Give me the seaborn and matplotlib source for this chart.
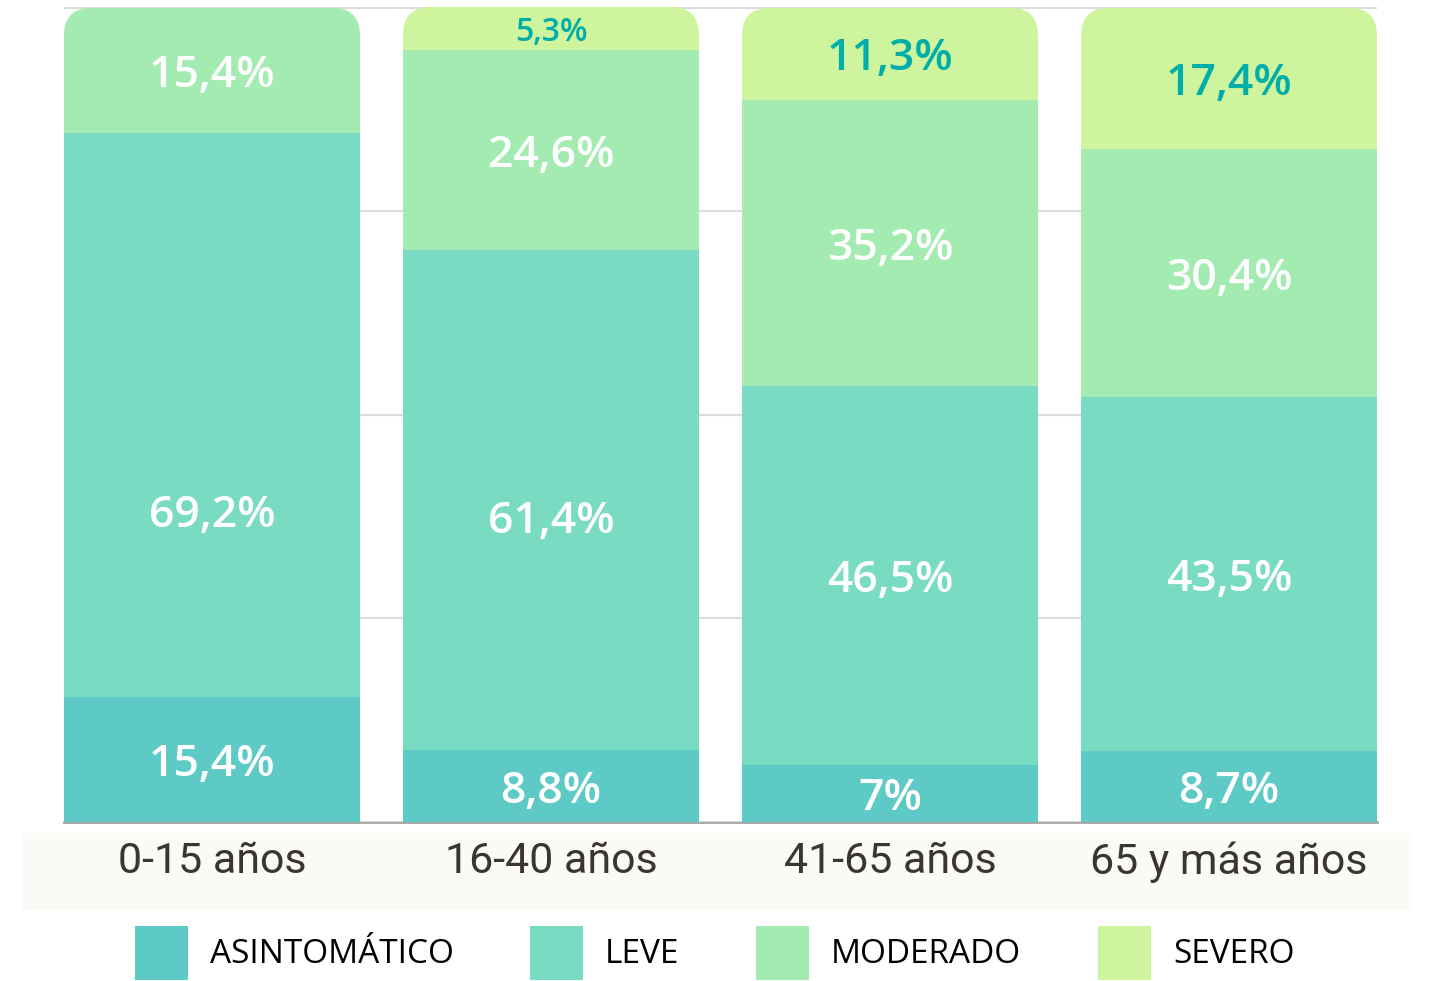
import numpy as np
import matplotlib.pyplot as plt
import seaborn as sns
from matplotlib.patches import FancyBboxPatch, Patch, Rectangle

# Datos
edades = ['0-15 años', '16-40 años', '41-65 años', '65 y más años']
asintomatico = [15.4, 8.8, 7.0, 8.7]
leve = [69.2, 61.4, 46.5, 43.5]
moderado = [15.4, 24.6, 35.2, 30.4]
severo = [0.0, 5.3, 11.3, 17.4]
etiquetas = ['ASINTOMÁTICO', 'LEVE', 'MODERADO', 'SEVERO']
colores = ['#5ecac6', '#79dbc2', '#a3ebb1', '#cef49d']

sns.set_theme(style='white')
plt.rcParams['font.family'] = ['Open Sans', 'DejaVu Sans']

W, H = 1429, 981
fig = plt.figure(figsize=(W / 100, H / 100), dpi=100)
ax = fig.add_axes([64 / W, 159 / H, 1313 / W, 815 / H])

series = [asintomatico, leve, moderado, severo]
acum = np.cumsum(series, axis=0)
ancho = 0.873

# barras apiladas: de la acumulada mayor a la menor
for i in range(3, -1, -1):
    sns.barplot(x=edades, y=acum[i], color=colores[i], saturation=1,
                width=ancho, errorbar=None, linewidth=0, ax=ax)

ymax = 100.1
ax.set_xlim(-ancho / 2, 3 + ancho / 2)
ax.set_ylim(0, ymax)

# esquinas superiores redondeadas
px_x = (3 + ancho) / 1313
px_y = ymax / 815
radio = 28 * px_x
totales = acum[3]
for patch in ax.patches:
    j = int(round(patch.get_x() + patch.get_width() / 2))
    clip = FancyBboxPatch((j - ancho / 2, -10), ancho, totales[j] + 10,
                          boxstyle=f'round,pad=0,rounding_size={radio}',
                          mutation_aspect=px_y / px_x, transform=ax.transData)
    patch.set_clip_path(clip)

# rejilla
ax.set_yticks([0, 25, 50, 75, 100])
ax.set_yticklabels([])
ax.yaxis.grid(True, color='#dcdcdc', lw=1.5)
ax.xaxis.grid(False)
ax.set_axisbelow(True)
ax.tick_params(axis='y', length=0)
for s in ['top', 'left', 'right']:
    ax.spines[s].set_visible(False)
ax.spines['bottom'].set_color('#a5a5a5')
ax.spines['bottom'].set_linewidth(2)
ax.spines['bottom'].set_zorder(0.5)

# eje x
ax.set_xticks(range(4))
ax.set_xticklabels(edades, fontsize=31, family=['Roboto', 'DejaVu Sans'],
                   color='#3b3434')
ax.tick_params(axis='x', length=0, pad=14)
ax.set_xlabel('')
ax.set_ylabel('')

fig.add_artist(Rectangle((22 / W, 71 / H), 1390 / W, 77 / H, transform=fig.transFigure,
                         facecolor='#fafaf7', edgecolor='none', zorder=-1))

# etiquetas de valores
ajuste = {(1, 0): -11.7, (1, 1): -2.0}
for j in range(4):
    base = 0
    for i in range(4):
        v = series[i][j]
        if v > 0:
            y = base + v / 2 + ajuste.get((i, j), 0)
            txt = f'{v:g}'.replace('.', ',') + '%'
            color = '#00aea9' if i == 3 else 'white'
            size = 23 if v < 8 and i == 3 else 32
            ax.text(j, y, txt, ha='center', va='center_baseline', color=color,
                    fontsize=size, fontweight='semibold')
        base += v

# leyenda
handles = [Patch(facecolor=c, edgecolor='none') for c in colores]
fig.legend(handles, etiquetas, loc='center', bbox_to_anchor=(0.5, 28 / H), ncol=4,
           frameon=False, prop={'size': 24, 'weight': 'medium'}, labelcolor='black',
           handlelength=1.6, handleheight=2.15, handletextpad=0.65, columnspacing=2.3)

fig.savefig('out.png', dpi=100)
